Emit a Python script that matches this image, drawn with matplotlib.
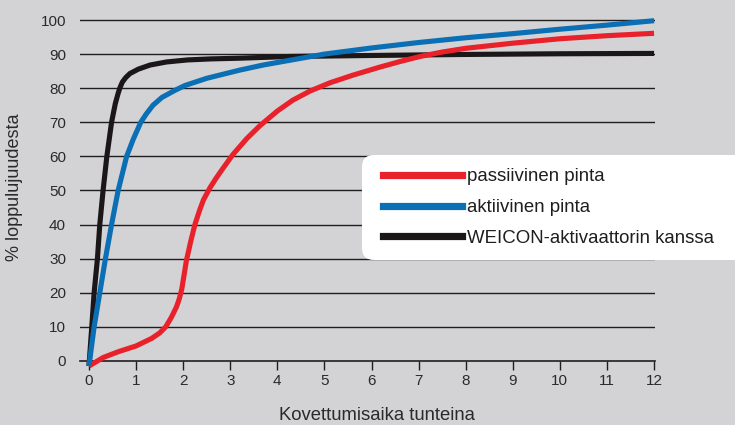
import matplotlib
matplotlib.use("Agg")
import matplotlib.pyplot as plt
from matplotlib.patches import FancyBboxPatch
from matplotlib.lines import Line2D

plt.rcParams['font.family'] = ['Liberation Sans', 'DejaVu Sans']

# ---- data ----
x_ticks = list(range(0, 13))
y_ticks = list(range(0, 101, 10))

black_x = [0, 0.06, 0.11, 0.18, 0.23, 0.30, 0.38, 0.48, 0.56, 0.62, 0.66, 0.71, 0.78, 0.87,
           1.05, 1.30, 1.65, 2.1, 2.6, 3.2, 4.27, 6, 8, 10, 12]
black_y = [-1.5, 10, 20, 30, 40, 50, 60, 70, 75.5, 78.5, 80.2, 81.8, 83.1, 84.3,
           85.6, 86.8, 87.7, 88.3, 88.6, 88.8, 89.3, 89.6, 89.9, 90.1, 90.2]

blue_x = [0, 0.11, 0.23, 0.35, 0.48, 0.62, 0.71, 0.80, 0.94, 1.10, 1.22, 1.36, 1.55, 1.83, 2.04,
          2.5, 3.2, 3.7, 4.27, 5, 6, 7, 8, 9, 10, 11, 12]
blue_y = [-1.5, 10, 20, 30, 40, 50, 55, 60, 65, 70, 72.5, 75, 77.3, 79.4, 80.8,
          82.9, 85.3, 86.8, 88.2, 90.0, 91.8, 93.4, 94.8, 96.0, 97.3, 98.5, 99.8]

red_x = [0, 0.3, 0.62, 1.0, 1.33, 1.5, 1.63, 1.75, 1.86, 1.92, 1.97, 2.02, 2.07, 2.12, 2.16,
         2.25, 2.34, 2.43, 2.57, 2.70, 2.82, 3.06, 3.35, 3.63, 4.0, 4.33, 4.7, 5.12, 5.6,
         6.18, 6.6, 7.03, 7.5, 8, 9, 10, 11, 12]
red_y = [-1.5, 1.0, 2.7, 4.4, 6.6, 8.2, 10.0, 12.8, 15.9, 18.3, 21.0, 25.2, 29.5, 32.5, 35.0,
         40.0, 43.8, 47.2, 50.8, 53.6, 56.0, 60.6, 65.2, 69.0, 73.3, 76.5, 79.2, 81.6, 83.8,
         86.2, 87.8, 89.3, 90.6, 91.7, 93.2, 94.5, 95.4, 96.1]

labels = ["passiivinen pinta", "aktiivinen pinta", "WEICON-aktivaattorin kanssa"]
colors = ["#e8212b", "#0a6fb5", "#1b1718"]

bg = "#d3d3d5"
fig = plt.figure(figsize=(7.35, 4.25), dpi=100, facecolor=bg)

xl = (-0.19, 12.02)
yl = (-3.0, 101.0)
ax = fig.add_axes([80 / 735, 1 - 371.2 / 425, 575 / 735, (371.2 - 16.6) / 425])
ax.set_facecolor(bg)
ax.set_xlim(*xl)
ax.set_ylim(*yl)

# horizontal grid lines
for yv in y_ticks[1:]:
    ax.axhline(yv, color="#1e1e1e", lw=1.0, zorder=1)

for sp in ["top", "right", "left"]:
    ax.spines[sp].set_visible(False)
ax.spines["bottom"].set_position(("data", 0))
ax.spines["bottom"].set_linewidth(1.2)
ax.spines["bottom"].set_color("#1e1e1e")

ax.set_xticks(x_ticks)
ax.set_xticklabels([str(v) for v in x_ticks])
ax.tick_params(axis="x", direction="out", length=6.5, width=1.0, color="#1e1e1e",
               labelsize=11, labelcolor="#2a2a2a", pad=3)
ax.set_yticks(y_ticks)
ax.set_yticklabels([str(v) for v in y_ticks])
ax.tick_params(axis="y", length=0, labelsize=11, labelcolor="#2a2a2a", pad=10)

lw = 3.7
ax.plot(red_x, red_y, color=colors[0], lw=lw, solid_capstyle="butt", solid_joinstyle="round", zorder=3)
ax.plot(blue_x, blue_y, color=colors[1], lw=lw, solid_capstyle="butt", solid_joinstyle="round", zorder=4)
ax.plot(black_x, black_y, color=colors[2], lw=lw, solid_capstyle="butt", solid_joinstyle="round", zorder=2)

fig.text(15 / 735, 1 - 187 / 425, "% loppulujuudesta", rotation=90, ha="center", va="center",
         fontsize=13, color="#2a2a2a")
fig.text(377 / 735, 1 - 416 / 425, "Kovettumisaika tunteina", ha="center", va="center",
         fontsize=13.3, color="#2a2a2a")

# legend box
box = FancyBboxPatch((3.62, 1.65), 3.85, 1.05, boxstyle="round,pad=0,rounding_size=0.12",
                     transform=fig.dpi_scale_trans, facecolor="white", edgecolor="none", zorder=5)
fig.patches.append(box)
handles = [Line2D([], [], color=c, lw=5.2) for c in colors]
leg = fig.legend(handles, labels, loc="upper left", bbox_to_anchor=(383 / 735, 1 - 168 / 425),
                 frameon=False, fontsize=13.4, handlelength=4.25, handletextpad=0.27,
                 labelspacing=0.75, borderpad=0, borderaxespad=0)
leg.set_zorder(6)
for t in leg.get_texts():
    t.set_color("#1e1e1e")

fig.savefig("out.png", dpi=100, facecolor=bg)
